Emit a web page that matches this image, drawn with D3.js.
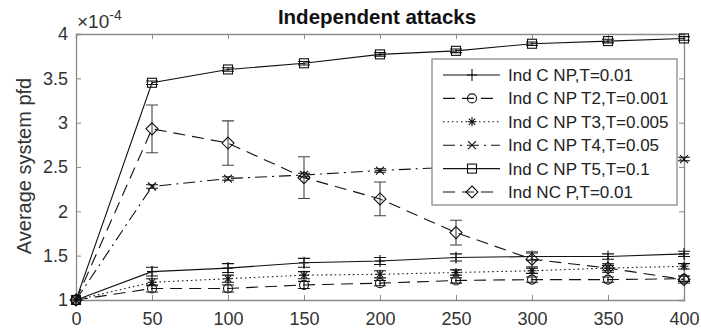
<!DOCTYPE html>
<html>
<head>
<meta charset="utf-8">
<script src="https://cdn.jsdelivr.net/npm/d3@7"></script>
<style>
body { margin: 0; background: #fff; }
text { font-family: "Liberation Sans", Arial, sans-serif; }
</style>
</head>
<body>
<svg></svg>
<script>
// size of the picture
var width = 701;
var height = 331;
var margin = {left: 76, right: 17, top: 34, bottom: 31};

// chart values (y in units of 1e-4)
var xs = [0, 50, 100, 150, 200, 250, 300, 350, 400];
var names = ["Ind C NP,T=0.01", "Ind C NP T2,T=0.001", "Ind C NP T3,T=0.005",
             "Ind C NP T4,T=0.05", "Ind C NP T5,T=0.1", "Ind NC P,T=0.01"];
var indC   = [1, 1.32, 1.36, 1.42, 1.44, 1.48, 1.49, 1.49, 1.52];
var indT2  = [1, 1.13, 1.13, 1.17, 1.19, 1.22, 1.23, 1.23, 1.24];
var indT3  = [1, 1.20, 1.24, 1.28, 1.29, 1.31, 1.33, 1.36, 1.38];
var indT4  = [1, 2.28, 2.37, 2.41, 2.46, 2.50, 2.53, 2.56, 2.59];
var indT5  = [1, 3.45, 3.60, 3.67, 3.77, 3.81, 3.89, 3.92, 3.95];
var indNC  = [1, 2.93, 2.77, 2.38, 2.14, 1.76, 1.46, 1.36, 1.23];
// half heights of the error bars
var errC   = [0, 0.05, 0.05, 0.05, 0.04, 0.04, 0.04, 0.03, 0.03];
var errT2  = [0, 0.04, 0.04, 0.04, 0.03, 0.03, 0.03, 0.03, 0.03];
var errT3  = [0, 0.04, 0.04, 0.04, 0.04, 0.03, 0.03, 0.03, 0.03];
var errT4  = [0, 0.02, 0.02, 0.02, 0.02, 0.02, 0.02, 0.02, 0.02];
var errT5  = [0, 0.02, 0.02, 0.02, 0.02, 0.02, 0.02, 0.02, 0.02];
var errNC  = [0, 0.27, 0.25, 0.235, 0.19, 0.14, 0.085, 0.05, 0.04];
var xTicks = [0, 50, 100, 150, 200, 250, 300, 350, 400];
var yTicks = [1, 1.5, 2, 2.5, 3, 3.5, 4];

var series = [
  {name: names[0], y: indC,  e: errC,  dash: null,       marker: "plus"},
  {name: names[1], y: indT2, e: errT2, dash: "12,7",     marker: "circle"},
  {name: names[2], y: indT3, e: errT3, dash: "1.5,3",    marker: "star"},
  {name: names[3], y: indT4, e: errT4, dash: "12,5,2,5", marker: "cross"},
  {name: names[4], y: indT5, e: errT5, dash: null,       marker: "square"},
  {name: names[5], y: indNC, e: errNC, dash: "12,7",     marker: "diamond"}
];

var svg = d3.select("svg")
    .attr("width", width)
    .attr("height", height);

var x = d3.scaleLinear()
    .domain([0, 400])
    .range([margin.left, width - margin.right]);

var y = d3.scaleLinear()
    .domain([1, 4])
    .range([height - margin.bottom, margin.top]);

var axisColor = "#8a8a8a";
var textColor = "#333";

// axes, ticks pointing inwards (matlab style box)
var gx = svg.append("g")
    .attr("transform", "translate(0," + (height - margin.bottom) + ")")
    .call(d3.axisBottom(x).tickValues(xTicks).tickSize(-5).tickPadding(12).tickFormat(d3.format("d")));
var gx2 = svg.append("g")
    .attr("transform", "translate(0," + margin.top + ")")
    .call(d3.axisTop(x).tickValues(xTicks).tickSize(-5).tickFormat(""));
var gy = svg.append("g")
    .attr("transform", "translate(" + margin.left + ",0)")
    .call(d3.axisLeft(y).tickValues(yTicks).tickSize(-5).tickPadding(8).tickFormat(function(d) { return d; }));
var gy2 = svg.append("g")
    .attr("transform", "translate(" + (width - margin.right) + ",0)")
    .call(d3.axisRight(y).tickValues(yTicks).tickSize(-5).tickFormat(""));

[gx, gx2, gy, gy2].forEach(function(g) {
    g.select(".domain").attr("stroke", axisColor).attr("stroke-width", 1.3);
    g.selectAll(".tick line").attr("stroke", axisColor);
    g.selectAll(".tick text").attr("fill", textColor).style("font-size", "18px");
});

// title
svg.append("text")
    .attr("x", 377)
    .attr("y", 24)
    .attr("text-anchor", "middle")
    .attr("font-weight", "bold")
    .style("font-size", "20.5px")
    .attr("fill", "#111")
    .text("Independent attacks");

// y label
svg.append("text")
    .attr("transform", "translate(31,166) rotate(-90)")
    .attr("text-anchor", "middle")
    .style("font-size", "20px")
    .attr("fill", textColor)
    .text("Average system pfd");

// exponent
var ex = svg.append("text")
    .attr("x", margin.left + 1)
    .attr("y", 28)
    .style("font-size", "19px")
    .attr("fill", textColor);
ex.append("tspan").text("\u00d710");
ex.append("tspan").attr("dy", -8).style("font-size", "14px").text("-4");

// marker drawing
function drawMarker(g, type, cx, cy) {
    var s = 5;
    if (type == "plus") {
        g.append("path").attr("d", "M" + (cx - s) + "," + cy + "H" + (cx + s) + "M" + cx + "," + (cy - s - 1) + "V" + (cy + s + 1));
    } else if (type == "circle") {
        g.append("circle").attr("cx", cx).attr("cy", cy).attr("r", 4.5).attr("fill", "none");
    } else if (type == "star") {
        var r = 4.5;
        g.append("path").attr("d", "M" + (cx - r) + "," + cy + "H" + (cx + r) + "M" + cx + "," + (cy - r) + "V" + (cy + r) +
            "M" + (cx - r * 0.7) + "," + (cy - r * 0.7) + "L" + (cx + r * 0.7) + "," + (cy + r * 0.7) +
            "M" + (cx - r * 0.7) + "," + (cy + r * 0.7) + "L" + (cx + r * 0.7) + "," + (cy - r * 0.7));
    } else if (type == "cross") {
        var c = 4;
        g.append("path").attr("d", "M" + (cx - c) + "," + (cy - c) + "L" + (cx + c) + "," + (cy + c) +
            "M" + (cx - c) + "," + (cy + c) + "L" + (cx + c) + "," + (cy - c));
    } else if (type == "square") {
        g.append("rect").attr("x", cx - 4.5).attr("y", cy - 4.5).attr("width", 9).attr("height", 9).attr("fill", "none");
    } else if (type == "diamond") {
        var d = 6;
        g.append("path").attr("d", "M" + cx + "," + (cy - d) + "L" + (cx + d) + "," + cy + "L" + cx + "," + (cy + d) + "L" + (cx - d) + "," + cy + "Z")
            .attr("fill", "none");
    }
}

var line = d3.line()
    .x(function(d) { return x(d[0]); })
    .y(function(d) { return y(d[1]); });

var plot = svg.append("g").attr("stroke", "#111").attr("fill", "none").attr("stroke-width", 1.1);

series.forEach(function(s) {
    var pts = xs.map(function(v, i) { return [v, s.y[i]]; });
    plot.append("path")
        .attr("d", line(pts))
        .attr("stroke-dasharray", s.dash);
    var mg = plot.append("g");
    xs.forEach(function(v, i) {
        var cx = x(v), cy = y(s.y[i]);
        var e = s.e[i];
        if (e > 0) {
            var y0 = y(s.y[i] - e), y1 = y(s.y[i] + e);
            mg.append("path")
                .attr("d", "M" + cx + "," + y0 + "V" + y1 +
                    "M" + (cx - 6) + "," + y0 + "H" + (cx + 6) +
                    "M" + (cx - 6) + "," + y1 + "H" + (cx + 6))
                .attr("stroke", s.marker == "diamond" ? "#444" : "#111");
        }
        drawMarker(mg, s.marker, cx, cy);
    });
});

// legend
var lg = svg.append("g").attr("transform", "translate(432,59)");
lg.append("rect")
    .attr("width", 245)
    .attr("height", 146)
    .attr("fill", "#fff")
    .attr("stroke", axisColor)
    .attr("stroke-width", 1.3);

series.forEach(function(s, i) {
    var ly = 16 + i * 23.4;
    var row = lg.append("g").attr("stroke", "#111").attr("fill", "none").attr("stroke-width", 1.1);
    row.append("path")
        .attr("d", "M11," + ly + "H68")
        .attr("stroke-dasharray", s.dash);
    drawMarker(row, s.marker, 40, ly);
    lg.append("text")
        .attr("x", 76)
        .attr("y", ly + 6)
        .style("font-size", "17px")
        .attr("fill", "#222")
        .text(s.name);
});
</script>
</body>
</html>
